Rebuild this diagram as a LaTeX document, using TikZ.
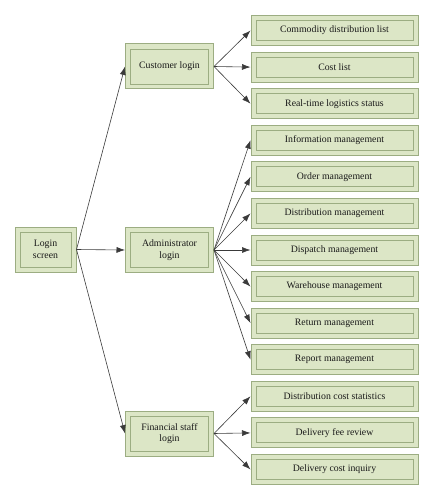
\documentclass[tikz,border=0pt]{standalone}
\usepackage{fontspec}
\setmainfont{Liberation Serif}
\usetikzlibrary{arrows.meta}
\definecolor{boxfill}{HTML}{DCE6C6}
\definecolor{boxline}{HTML}{9CAD82}
\definecolor{arrline}{HTML}{3A3A3A}
\tikzset{
  twobox/.style={draw=boxline, line width=1pt, fill=boxfill, inner sep=0pt, align=center,
    font=\fontsize{9.8}{11.5}\selectfont, text=black!90,
    path picture={\draw[boxline, line width=0.9pt]
      ([shift={(5pt,-5pt)}]path picture bounding box.north west) rectangle
      ([shift={(-5pt,5pt)}]path picture bounding box.south east);}},
  leafbox/.style={twobox, minimum width=167pt, minimum height=30pt},
  midbox/.style={twobox, minimum width=88pt, minimum height=45pt},
  rootbox/.style={twobox, minimum width=61pt, minimum height=45pt},
  conn/.style={draw=arrline, line width=0.6pt, -{Latex[length=8.5pt,width=6pt]}}
}
\begin{document}
\begin{tikzpicture}[x=1pt,y=-1pt]
\useasboundingbox (0,0) rectangle (434,500);
\node[rootbox] (login) at (45.5,249.5) {Login\\screen};
\node[midbox] (cust) at (169.5,66.5) {Customer login};
\node[midbox] (admin) at (169.5,250) {Administrator\\login};
\node[midbox] (fin) at (169.5,433.5) {Financial staff\\login};
\node[leafbox] (c1) at (334.5,30.5) {Commodity distribution list};
\node[leafbox] (c2) at (334.5,67.1) {Cost list};
\node[leafbox] (c3) at (334.5,103.7) {Real-time logistics status};
\node[leafbox] (a1) at (334.5,140.2) {Information management};
\node[leafbox] (a2) at (334.5,176.8) {Order management};
\node[leafbox] (a3) at (334.5,213.4) {Distribution management};
\node[leafbox] (a4) at (334.5,250) {Dispatch management};
\node[leafbox] (a5) at (334.5,286.6) {Warehouse management};
\node[leafbox] (a6) at (334.5,323.1) {Return management};
\node[leafbox] (a7) at (334.5,359.7) {Report management};
\node[leafbox] (f1) at (334.5,396.3) {Distribution cost statistics};
\node[leafbox] (f2) at (334.5,432.9) {Delivery fee review};
\node[leafbox] (f3) at (334.5,469.5) {Delivery cost inquiry};
\foreach \t in {cust,admin,fin} \draw[conn] (login.east) -- (\t.west);
\foreach \t in {c1,c2,c3} \draw[conn] (cust.east) -- (\t.west);
\foreach \t in {a1,a2,a3,a4,a5,a6,a7} \draw[conn] (admin.east) -- (\t.west);
\foreach \t in {f1,f2,f3} \draw[conn] (fin.east) -- (\t.west);
\end{tikzpicture}
\end{document}
